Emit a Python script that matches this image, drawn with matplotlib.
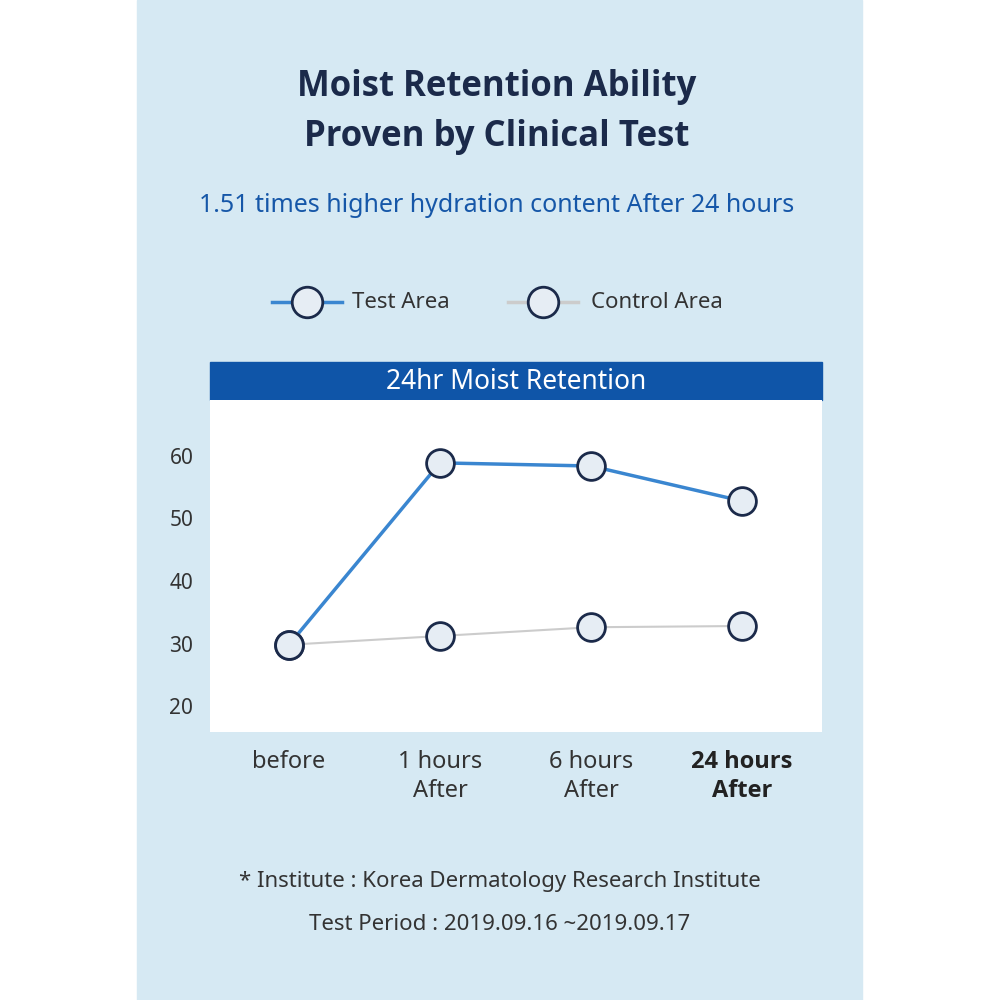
import matplotlib.pyplot as plt
from matplotlib.patches import Rectangle

times = ["before", "1 hours\nAfter", "6 hours\nAfter", "24 hours\nAfter"]
test_area = [29.8, 58.9, 58.4, 52.8]
control_area = [29.8, 31.2, 32.6, 32.8]
yticks = [20, 30, 40, 50, 60]

plt.rcParams['font.family'] = ['Noto Sans', 'DejaVu Sans']
bold_font = ['Open Sans', 'Lato', 'DejaVu Sans']
navy = "#1b2a4a"
blue = "#3a86d0"
grey = "#cccccc"
marker_face = "#e6edf4"

fig = plt.figure(figsize=(10, 10), dpi=100)
fig.patches.append(Rectangle((0.137, 0), 0.725, 1, transform=fig.transFigure,
                             color="#d6e9f3", zorder=-5))

fig.text(0.497, 0.913, "Moist Retention Ability", ha="center", va="center",
         fontsize=25, fontweight="bold", color=navy, family=bold_font)
fig.text(0.497, 0.863, "Proven by Clinical Test", ha="center", va="center",
         fontsize=25, fontweight="bold", color=navy, family=bold_font)
fig.text(0.497, 0.794, "1.51 times higher hydration content After 24 hours",
         ha="center", va="center", fontsize=18, color="#1657a8")

# header bar
fig.patches.append(Rectangle((0.210, 0.600), 0.612, 0.038, transform=fig.transFigure,
                             color="#0f55a8", zorder=-4))
fig.text(0.516, 0.618, "24hr Moist Retention", ha="center", va="center",
         fontsize=19, color="white")

ax = fig.add_axes([0.210, 0.268, 0.612, 0.332])
ax.set_facecolor("white")
x = range(len(times))
ax.plot(x, control_area, color=grey, lw=1.5, marker="o", ms=20,
        mfc=marker_face, mec=navy, mew=2, zorder=2, clip_on=False)
ax.plot(x, test_area, color=blue, lw=2.5, marker="o", ms=20,
        mfc=marker_face, mec=navy, mew=2, zorder=3, clip_on=False)
ax.set_xlim(-0.523, 3.53)
ax.set_ylim(15.84, 68.96)
ax.set_yticks(yticks)
ax.tick_params(axis="y", length=0, pad=12, labelsize=15, labelcolor="#333333")
ax.set_xticks([])
for s in ax.spines.values():
    s.set_visible(False)

for i, t in enumerate(times):
    xf = (289 + 151 * i) / 1000
    fig.text(xf, 0.250, t, ha="center", va="top", fontsize=17,
             color="#222222" if i == 3 else "#333333",
             fontweight="bold" if i == 3 else "normal",
             family=bold_font if i == 3 else None, linespacing=1.3)

# legend
lx = [(0.272, 0.342, 0.307, blue, 2.5, "Test Area", 0.352),
      (0.508, 0.578, 0.543, grey, 2.5, "Control Area", 0.591)]
for x0, x1, xm, c, lw, lab, tx in lx:
    fig.add_artist(plt.Line2D([x0, x1], [0.698, 0.698], color=c, lw=lw,
                              transform=fig.transFigure))
    fig.add_artist(plt.Line2D([xm], [0.698], marker="o", ms=22, mfc=marker_face,
                              mec=navy, mew=2, transform=fig.transFigure))
    fig.text(tx, 0.698, lab, ha="left", va="center", fontsize=16, color="#333333")

fig.text(0.5, 0.118, "* Institute : Korea Dermatology Research Institute",
         ha="center", va="center", fontsize=16, color="#333333")
fig.text(0.5, 0.075, "Test Period : 2019.09.16 ~2019.09.17",
         ha="center", va="center", fontsize=16, color="#333333")

fig.savefig("out.png", dpi=100, facecolor="white")
